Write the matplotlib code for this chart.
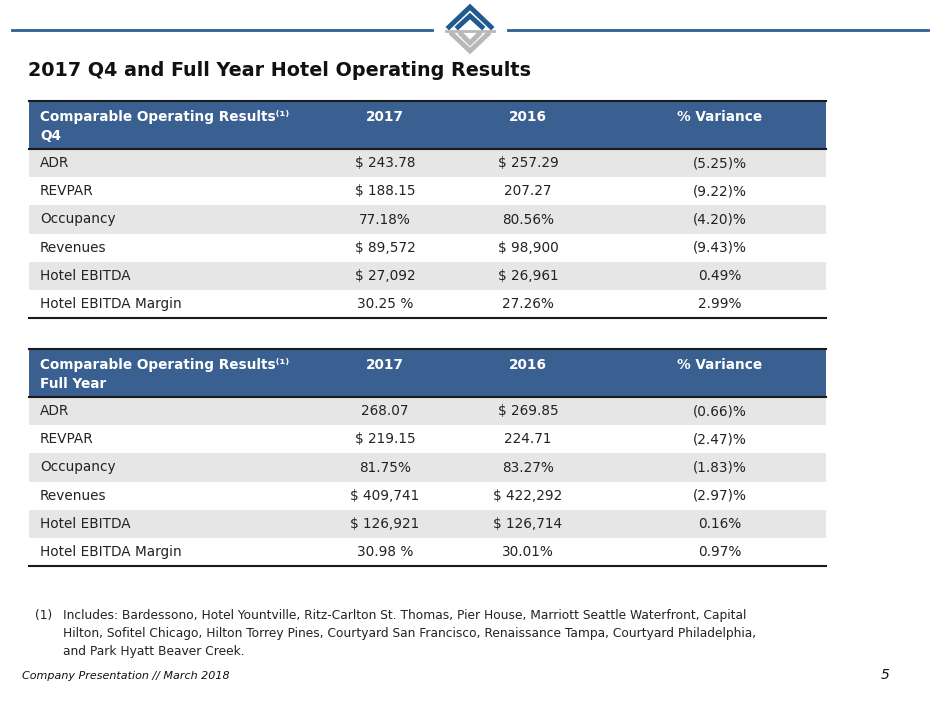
import matplotlib.pyplot as plt
from matplotlib.patches import Rectangle

# table contents
metrics = ["ADR", "REVPAR", "Occupancy", "Revenues", "Hotel EBITDA", "Hotel EBITDA Margin"]
columns = ["2017", "2016", "% Variance"]

q4_2017 = ["$ 243.78", "$ 188.15", "77.18%", "$ 89,572", "$ 27,092", "30.25 %"]
q4_2016 = ["$ 257.29", "207.27", "80.56%", "$ 98,900", "$ 26,961", "27.26%"]
q4_var = ["(5.25)%", "(9.22)%", "(4.20)%", "(9.43)%", "0.49%", "2.99%"]

fy_2017 = ["268.07", "$ 219.15", "81.75%", "$ 409,741", "$ 126,921", "30.98 %"]
fy_2016 = ["$ 269.85", "224.71", "83.27%", "$ 422,292", "$ 126,714", "30.01%"]
fy_var = ["(0.66)%", "(2.47)%", "(1.83)%", "(2.97)%", "0.16%", "0.97%"]

title = "2017 Q4 and Full Year Hotel Operating Results"
footnote_lines = [
    "Includes: Bardessono, Hotel Yountville, Ritz-Carlton St. Thomas, Pier House, Marriott Seattle Waterfront, Capital",
    "Hilton, Sofitel Chicago, Hilton Torrey Pines, Courtyard San Francisco, Renaissance Tampa, Courtyard Philadelphia,",
    "and Park Hyatt Beaver Creek.",
]

BLUE = "#2f5d8f"
HEAD = "#3a6091"
GRAY = "#e6e6e6"
TXT = "#222222"

fig = plt.figure(figsize=(9.4, 7.05), dpi=100)
ax = fig.add_axes([0, 0, 1, 1])
ax.set_xlim(0, 940)
ax.set_ylim(705, 0)
ax.axis("off")

# top rule and logo
ax.plot([12, 432], [30, 30], color=BLUE, lw=2)
ax.plot([508, 928], [30, 30], color=BLUE, lw=2)
ax.plot([449, 470, 491], [27, 7, 27], color="#1f5b8e", lw=3.5, solid_joinstyle="miter")
ax.plot([458, 470, 482], [27, 16, 27], color="#1f5b8e", lw=3.5, solid_joinstyle="miter")
ax.plot([446, 494], [31, 31], color="#b8b8b8", lw=2)
ax.plot([452, 470, 488], [34, 51, 34], color="#b8b8b8", lw=3.5, solid_joinstyle="miter")
ax.plot([461, 470, 479], [34, 43, 34], color="#b8b8b8", lw=3.5, solid_joinstyle="miter")

ax.text(28, 70, title, fontsize=13.8, fontweight="bold", family="DejaVu Sans",
        color="#111111", va="center", ha="left")

x0, x1 = 29, 826
col_x = [385, 528, 720]
row_h = 28.2
head_h = 48
fs = 9.8


def draw_table(top, subtitle, cols_data):
    ax.add_patch(Rectangle((x0, top), x1 - x0, head_h, color=HEAD, lw=0))
    ax.plot([x0, x1], [top, top], color="#1a1a1a", lw=1.5)
    ax.plot([x0, x1], [top + head_h, top + head_h], color="#1a1a1a", lw=1.5)
    ax.text(40, top + 16, "Comparable Operating Results⁽¹⁾", color="white", fontsize=fs,
            fontweight="bold", va="center", ha="left")
    ax.text(40, top + 35, subtitle, color="white", fontsize=fs,
            fontweight="bold", va="center", ha="left")
    for cx, name in zip(col_x, columns):
        ax.text(cx, top + 16, name, color="white", fontsize=fs, fontweight="bold",
                va="center", ha="center")
    y = top + head_h
    for i, m in enumerate(metrics):
        if i % 2 == 0:
            ax.add_patch(Rectangle((x0, y), x1 - x0, row_h, color=GRAY, lw=0))
        ax.text(40, y + row_h / 2, m, color=TXT, fontsize=fs, va="center", ha="left")
        for cx, vals in zip(col_x, cols_data):
            ax.text(cx, y + row_h / 2, vals[i], color=TXT, fontsize=fs,
                    va="center", ha="center")
        y += row_h
    ax.plot([x0, x1], [y, y], color="#1a1a1a", lw=1.5)


draw_table(101, "Q4", [q4_2017, q4_2016, q4_var])
draw_table(349, "Full Year", [fy_2017, fy_2016, fy_var])

ax.text(35, 615, "(1)", color=TXT, fontsize=8.8, va="center", ha="left")
for k, line in enumerate(footnote_lines):
    ax.text(63, 615 + 18 * k, line, color=TXT, fontsize=8.8, va="center", ha="left")

ax.text(22, 676, "Company Presentation // March 2018", fontsize=8, style="italic",
        color="#111111", va="center", ha="left")
ax.text(890, 675, "5", fontsize=10, style="italic", color="#111111", va="center", ha="right")

fig.savefig("out.png", dpi=100)
